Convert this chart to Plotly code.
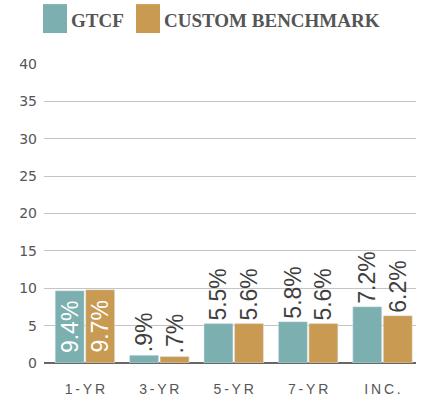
import plotly.graph_objects as go

categories = ["1-YR", "3-YR", "5-YR", "7-YR", "INC."]
gtcf_values = [9.67, 1.04, 5.27, 5.53, 7.53]
bench_values = [9.8, 0.87, 5.27, 5.27, 6.33]
gtcf_labels = ["9.4%", ".9%", "5.5%", "5.8%", "7.2%"]
bench_labels = ["9.7%", ".7%", "5.6%", "5.6%", "6.2%"]
gtcf_textpos = ["inside", "outside", "outside", "outside", "outside"]
bench_textpos = ["inside", "outside", "outside", "outside", "outside"]
y_ticks = [0, 5, 10, 15, 20, 25, 30, 35, 40]
series_names = ["GTCF", "CUSTOM BENCHMARK"]

TEAL = "#7BAFB0"
GOLD = "#C89A52"
LABEL_FONT = "Liberation Sans, Arial, sans-serif"

def spaced(s):
    return "\u2009".join(list(s))

x_idx = list(range(len(categories)))

fig = go.Figure()
fig.add_trace(go.Bar(
    x=x_idx, y=gtcf_values, name=series_names[0], marker_color=TEAL,
    text=gtcf_labels, textposition=gtcf_textpos, textangle=-90,
    insidetextanchor="middle", constraintext="none",
    insidetextfont=dict(color="white", size=23, family=LABEL_FONT),
    outsidetextfont=dict(color="#3f3f3f", size=23, family=LABEL_FONT),
    cliponaxis=False, showlegend=False, hoverinfo="skip",
))
fig.add_trace(go.Bar(
    x=x_idx, y=bench_values, name=series_names[1], marker_color=GOLD,
    text=bench_labels, textposition=bench_textpos, textangle=-90,
    insidetextanchor="middle", constraintext="none",
    insidetextfont=dict(color="white", size=23, family=LABEL_FONT),
    outsidetextfont=dict(color="#3f3f3f", size=23, family=LABEL_FONT),
    cliponaxis=False, showlegend=False, hoverinfo="skip",
))

L, R, T, B = 44, 8, 64, 38.5
PW = 424 - L - R
PH = 402 - T - B

def px_x(px):
    return (px - L) / PW

def px_y(py):
    return (402 - B - py) / PH

# custom legend
fig.add_shape(type="rect", xref="paper", yref="paper",
              x0=px_x(43), x1=px_x(67), y0=px_y(4), y1=px_y(33),
              fillcolor=TEAL, line_width=0)
fig.add_shape(type="rect", xref="paper", yref="paper",
              x0=px_x(136), x1=px_x(160), y0=px_y(4), y1=px_y(33),
              fillcolor=GOLD, line_width=0)
for name, xpx in [(series_names[0], 69), (series_names[1], 162)]:
    fig.add_annotation(xref="paper", yref="paper",
                       x=px_x(xpx), y=px_y(20),
                       xanchor="left", yanchor="middle", showarrow=False,
                       text="<b>" + name + "</b>",
                       font=dict(family="Liberation Serif, Times New Roman, serif",
                                 size=19, color="#555555"))

fig.update_layout(
    width=424, height=402,
    margin=dict(l=L, r=R, t=T, b=B, autoexpand=False),
    paper_bgcolor="white", plot_bgcolor="white",
    barmode="group", bargap=0.18, bargroupgap=0.05,
    xaxis=dict(
        range=[-0.55, 4.45], tickmode="array", tickvals=x_idx,
        ticktext=[spaced(c) for c in categories],
        tickfont=dict(family=LABEL_FONT, size=14, color="#555555"),
        showgrid=False, zeroline=False, showline=False, ticks="",
        ticklabelstandoff=16, automargin=False,
    ),
    yaxis=dict(
        range=[0, 40], tickmode="array", tickvals=y_ticks,
        tickfont=dict(family="DejaVu Sans, sans-serif", size=14, color="#555555"),
        showgrid=True, gridcolor="#c4c4c4", gridwidth=1,
        zeroline=True, zerolinecolor="#666666", zerolinewidth=2,
        ticks="", ticklabelstandoff=6, automargin=False,
    ),
)

fig.write_html("out.html", config={"displayModeBar": False},
               post_script="document.body.style.margin='0';")
